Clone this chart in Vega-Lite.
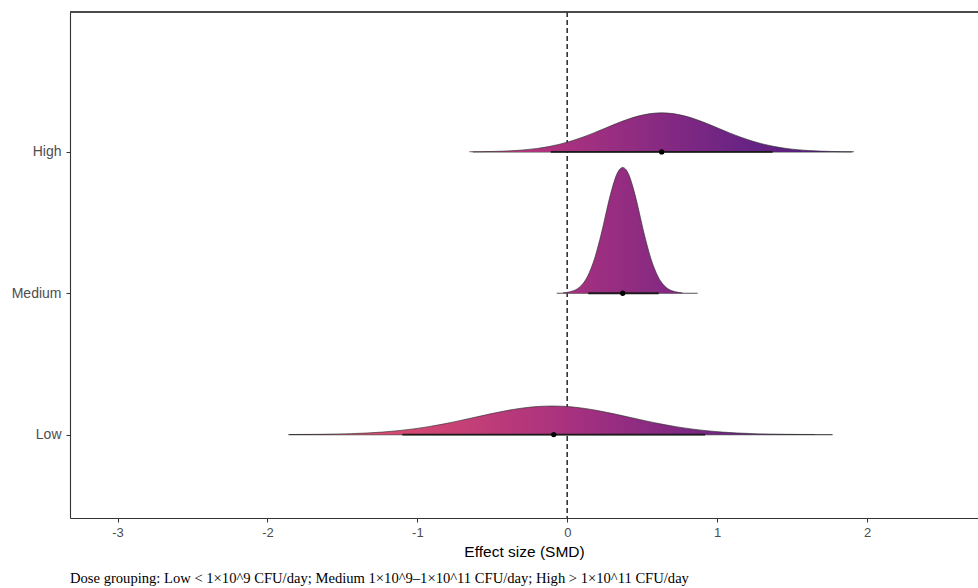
{
  "$schema": "https://vega.github.io/schema/vega-lite/v6.json",
  "width": 908,
  "height": 506,
  "autosize": {"type": "none"},
  "padding": {"left": 70, "top": 12, "right": 0, "bottom": 70},
  "background": "white",
  "config": {
    "font": "Liberation Sans",
    "view": {"stroke": null},
    "axis": {"grid": false, "domainColor": "#333333", "domainWidth": 1.1, "tickColor": "#333333", "tickSize": 4, "labelColor": "#4d4d4d", "labelFontSize": 13}
  },
  "title": {
    "text": "Dose grouping: Low < 1×10^9 CFU/day; Medium 1×10^9–1×10^11 CFU/day; High > 1×10^11 CFU/day",
    "orient": "bottom",
    "anchor": "start",
    "frame": "group",
    "font": "Liberation Serif",
    "fontSize": 14.6,
    "fontWeight": "normal",
    "color": "#000000",
    "offset": 11
  },
  "datasets": {
    "dens": [
      {"g": "High", "x": -0.652, "d": 0.0033}, {"g": "High", "x": -0.576, "d": 0.0063}, {"g": "High", "x": -0.501, "d": 0.0117}, {"g": "High", "x": -0.426, "d": 0.0209}, {"g": "High", "x": -0.35, "d": 0.036}, {"g": "High", "x": -0.275, "d": 0.0594}, {"g": "High", "x": -0.199, "d": 0.0941}, {"g": "High", "x": -0.124, "d": 0.1431}, {"g": "High", "x": -0.049, "d": 0.2094}, {"g": "High", "x": 0.027, "d": 0.2941}, {"g": "High", "x": 0.102, "d": 0.3971}, {"g": "High", "x": 0.178, "d": 0.515}, {"g": "High", "x": 0.253, "d": 0.6417}, {"g": "High", "x": 0.328, "d": 0.7682}, {"g": "High", "x": 0.404, "d": 0.8837}, {"g": "High", "x": 0.479, "d": 0.9766}, {"g": "High", "x": 0.555, "d": 1.0371}, {"g": "High", "x": 0.63, "d": 1.058}, {"g": "High", "x": 0.705, "d": 1.0371}, {"g": "High", "x": 0.781, "d": 0.9766}, {"g": "High", "x": 0.856, "d": 0.8837}, {"g": "High", "x": 0.932, "d": 0.7682}, {"g": "High", "x": 1.007, "d": 0.6417}, {"g": "High", "x": 1.082, "d": 0.515}, {"g": "High", "x": 1.158, "d": 0.3971}, {"g": "High", "x": 1.233, "d": 0.2941}, {"g": "High", "x": 1.309, "d": 0.2094}, {"g": "High", "x": 1.384, "d": 0.1431}, {"g": "High", "x": 1.459, "d": 0.0941}, {"g": "High", "x": 1.535, "d": 0.0594}, {"g": "High", "x": 1.61, "d": 0.036}, {"g": "High", "x": 1.686, "d": 0.0209}, {"g": "High", "x": 1.761, "d": 0.0117}, {"g": "High", "x": 1.836, "d": 0.0063}, {"g": "High", "x": 1.912, "d": 0.0033},
      {"g": "Medium", "x": -0.028, "d": 0.0106}, {"g": "Medium", "x": -0.004, "d": 0.0205}, {"g": "Medium", "x": 0.019, "d": 0.0379}, {"g": "Medium", "x": 0.042, "d": 0.0675}, {"g": "Medium", "x": 0.066, "d": 0.1159}, {"g": "Medium", "x": 0.089, "d": 0.1913}, {"g": "Medium", "x": 0.113, "d": 0.3031}, {"g": "Medium", "x": 0.136, "d": 0.4614}, {"g": "Medium", "x": 0.159, "d": 0.6748}, {"g": "Medium", "x": 0.183, "d": 0.948}, {"g": "Medium", "x": 0.206, "d": 1.2798}, {"g": "Medium", "x": 0.23, "d": 1.66}, {"g": "Medium", "x": 0.253, "d": 2.0682}, {"g": "Medium", "x": 0.276, "d": 2.476}, {"g": "Medium", "x": 0.3, "d": 2.8484}, {"g": "Medium", "x": 0.323, "d": 3.1478}, {"g": "Medium", "x": 0.347, "d": 3.3425}, {"g": "Medium", "x": 0.37, "d": 3.41}, {"g": "Medium", "x": 0.393, "d": 3.3425}, {"g": "Medium", "x": 0.417, "d": 3.1478}, {"g": "Medium", "x": 0.44, "d": 2.8484}, {"g": "Medium", "x": 0.464, "d": 2.476}, {"g": "Medium", "x": 0.487, "d": 2.0682}, {"g": "Medium", "x": 0.51, "d": 1.66}, {"g": "Medium", "x": 0.534, "d": 1.2798}, {"g": "Medium", "x": 0.557, "d": 0.948}, {"g": "Medium", "x": 0.581, "d": 0.6748}, {"g": "Medium", "x": 0.604, "d": 0.4614}, {"g": "Medium", "x": 0.627, "d": 0.3031}, {"g": "Medium", "x": 0.651, "d": 0.1913}, {"g": "Medium", "x": 0.674, "d": 0.1159}, {"g": "Medium", "x": 0.698, "d": 0.0675}, {"g": "Medium", "x": 0.721, "d": 0.0379}, {"g": "Medium", "x": 0.744, "d": 0.0205}, {"g": "Medium", "x": 0.768, "d": 0.0106},
      {"g": "Low", "x": -1.851, "d": 0.0024}, {"g": "Low", "x": -1.748, "d": 0.0047}, {"g": "Low", "x": -1.645, "d": 0.0086}, {"g": "Low", "x": -1.542, "d": 0.0153}, {"g": "Low", "x": -1.439, "d": 0.0264}, {"g": "Low", "x": -1.336, "d": 0.0435}, {"g": "Low", "x": -1.233, "d": 0.0689}, {"g": "Low", "x": -1.13, "d": 0.1049}, {"g": "Low", "x": -1.027, "d": 0.1534}, {"g": "Low", "x": -0.924, "d": 0.2155}, {"g": "Low", "x": -0.821, "d": 0.2909}, {"g": "Low", "x": -0.718, "d": 0.3773}, {"g": "Low", "x": -0.615, "d": 0.47}, {"g": "Low", "x": -0.512, "d": 0.5627}, {"g": "Low", "x": -0.409, "d": 0.6474}, {"g": "Low", "x": -0.306, "d": 0.7154}, {"g": "Low", "x": -0.203, "d": 0.7597}, {"g": "Low", "x": -0.1, "d": 0.775}, {"g": "Low", "x": 0.003, "d": 0.7597}, {"g": "Low", "x": 0.106, "d": 0.7154}, {"g": "Low", "x": 0.209, "d": 0.6474}, {"g": "Low", "x": 0.312, "d": 0.5627}, {"g": "Low", "x": 0.415, "d": 0.47}, {"g": "Low", "x": 0.518, "d": 0.3773}, {"g": "Low", "x": 0.621, "d": 0.2909}, {"g": "Low", "x": 0.724, "d": 0.2155}, {"g": "Low", "x": 0.827, "d": 0.1534}, {"g": "Low", "x": 0.93, "d": 0.1049}, {"g": "Low", "x": 1.033, "d": 0.0689}, {"g": "Low", "x": 1.136, "d": 0.0435}, {"g": "Low", "x": 1.239, "d": 0.0264}, {"g": "Low", "x": 1.342, "d": 0.0153}, {"g": "Low", "x": 1.445, "d": 0.0086}, {"g": "Low", "x": 1.548, "d": 0.0047}, {"g": "Low", "x": 1.651, "d": 0.0024}
    ],
    "iv": [
      {"g": "High", "lv": 3, "pt": 0.63, "lo66": -0.11, "hi66": 1.37, "lo95": -0.63, "hi95": 1.9},
      {"g": "Medium", "lv": 2, "pt": 0.37, "lo66": 0.14, "hi66": 0.61, "lo95": -0.07, "hi95": 0.87},
      {"g": "Low", "lv": 1, "pt": -0.09, "lo66": -1.1, "hi66": 0.92, "lo95": -1.86, "hi95": 1.77}
    ]
  },
  "resolve": {"scale": {"y": "independent"}, "axis": {"y": "independent"}},
  "layer": [
    {
      "data": {"name": "iv"},
      "mark": {"type": "rule", "strokeDash": [5, 3], "color": "#333333", "strokeWidth": 1},
      "encoding": {
        "x": {"datum": 0, "type": "quantitative", "scale": {"domain": [-3.317, 2.74], "nice": false, "zero": false},
          "axis": {"values": [-3, -2, -1, 0, 1, 2], "labelExpr": "datum.value + ''", "title": "Effect size (SMD)", "titleFontSize": 15.5, "titleFontWeight": "normal", "titleColor": "#000000", "titlePadding": 5, "labelPadding": 4}}
      }
    },
    {
      "data": {"name": "iv"},
      "mark": {"type": "rule", "color": "#555555", "strokeWidth": 1.1},
      "encoding": {
        "x": {"field": "lo95", "type": "quantitative"},
        "x2": {"field": "hi95"},
        "y": {"field": "lv", "type": "quantitative", "scale": {"domain": [0.41, 3.99], "nice": false, "zero": false},
          "axis": {"values": [1, 2, 3], "title": null, "labelExpr": "datum.value == 3 ? 'High' : datum.value == 2 ? 'Medium' : 'Low'", "labelFontSize": 14, "labelPadding": 5}}
      }
    },
    {
      "data": {"name": "dens"},
      "transform": [{"filter": "datum.g == 'High'"}],
      "layer": [
        {"mark": {"type": "area", "interpolate": "monotone", "fill": {"gradient": "linear", "x1": 0, "x2": 1, "y1": 0, "y2": 0, "stops": [{"offset": 0, "color": "#c23c76"}, {"offset": 0.254, "color": "#a8317f"}, {"offset": 0.488, "color": "#882a82"}, {"offset": 0.722, "color": "#682384"}, {"offset": 1, "color": "#4a1d7a"}]}},
         "encoding": {"x": {"field": "x", "type": "quantitative"}, "y": {"field": "d", "type": "quantitative", "scale": {"domain": [-9.921, 3.791], "nice": false}, "axis": null}}},
        {"mark": {"type": "line", "interpolate": "monotone", "color": "#2a2a2a", "strokeWidth": 0.8, "opacity": 0.8},
         "encoding": {"x": {"field": "x", "type": "quantitative"}, "y": {"field": "d", "type": "quantitative", "axis": null}}}
      ]
    },
    {
      "data": {"name": "dens"},
      "transform": [{"filter": "datum.g == 'Medium'"}],
      "layer": [
        {"mark": {"type": "area", "interpolate": "monotone", "fill": {"gradient": "linear", "x1": 0, "x2": 1, "y1": 0, "y2": 0, "stops": [{"offset": 0, "color": "#a9317f"}, {"offset": 0.789, "color": "#882a82"}, {"offset": 1, "color": "#7e2883"}]}},
         "encoding": {"x": {"field": "x", "type": "quantitative"}, "y": {"field": "d", "type": "quantitative", "scale": {"domain": [-6.092, 7.621], "nice": false}, "axis": null}}},
        {"mark": {"type": "line", "interpolate": "monotone", "color": "#2a2a2a", "strokeWidth": 0.8, "opacity": 0.8},
         "encoding": {"x": {"field": "x", "type": "quantitative"}, "y": {"field": "d", "type": "quantitative", "axis": null}}}
      ]
    },
    {
      "data": {"name": "dens"},
      "transform": [{"filter": "datum.g == 'Low'"}],
      "layer": [
        {"mark": {"type": "area", "interpolate": "monotone", "fill": {"gradient": "linear", "x1": 0, "x2": 1, "y1": 0, "y2": 0, "stops": [{"offset": 0, "color": "#ea566c"}, {"offset": 0.243, "color": "#d24672"}, {"offset": 0.529, "color": "#a8317f"}, {"offset": 0.7, "color": "#882a82"}, {"offset": 0.871, "color": "#682384"}, {"offset": 1, "color": "#561f7f"}]}},
         "encoding": {"x": {"field": "x", "type": "quantitative"}, "y": {"field": "d", "type": "quantitative", "scale": {"domain": [-2.26, 11.453], "nice": false}, "axis": null}}},
        {"mark": {"type": "line", "interpolate": "monotone", "color": "#2a2a2a", "strokeWidth": 0.8, "opacity": 0.8},
         "encoding": {"x": {"field": "x", "type": "quantitative"}, "y": {"field": "d", "type": "quantitative", "axis": null}}}
      ]
    },
    {
      "data": {"name": "iv"},
      "layer": [
        {"mark": {"type": "rule", "color": "#1a1a1a", "strokeWidth": 1.8},
         "encoding": {"x": {"field": "lo66", "type": "quantitative"}, "x2": {"field": "hi66"},
           "y": {"field": "lv", "type": "quantitative", "scale": {"domain": [0.41, 3.99], "nice": false, "zero": false}, "axis": null}}},
        {"mark": {"type": "point", "filled": true, "color": "#000000", "size": 28, "opacity": 1},
         "encoding": {"x": {"field": "pt", "type": "quantitative"},
           "y": {"field": "lv", "type": "quantitative", "axis": null}}}
      ]
    },
    {
      "data": {"name": "iv"},
      "mark": {"type": "rule", "color": "#333333", "strokeWidth": 1.1},
      "encoding": {"y": {"datum": 3.99, "type": "quantitative", "scale": {"domain": [0.41, 3.99], "nice": false, "zero": false}, "axis": null}}
    }
  ]
}
